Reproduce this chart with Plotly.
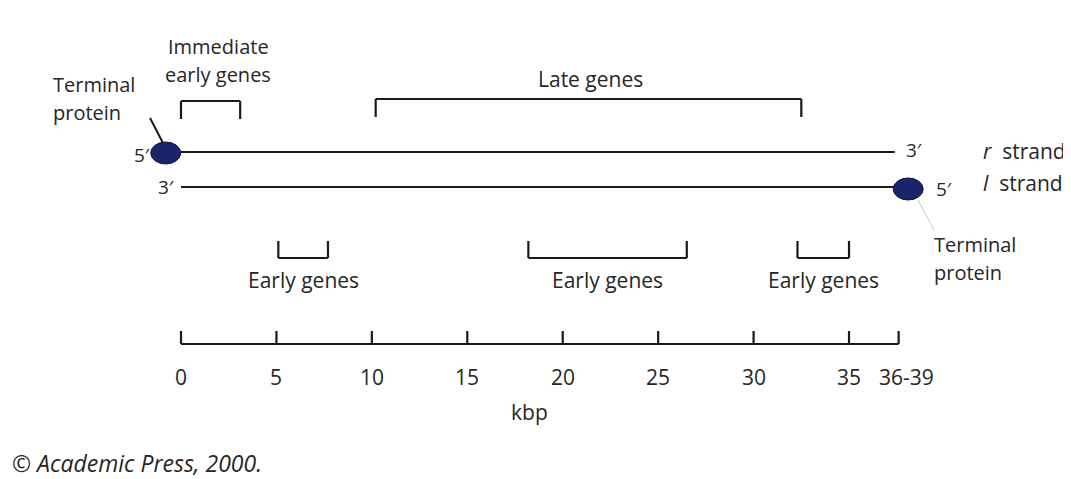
import plotly.graph_objects as go

# ---- data (kbp) ----
tick_values = [0, 5, 10, 15, 20, 25, 30, 35, 37.6]
tick_labels = ["0", "5", "10", "15", "20", "25", "30", "35", "36-39"]
genome_length = 37.6

upper_labels = ["Immediate<br>early genes", "Late genes"]
upper_starts = [0.0, 10.2]
upper_ends = [3.1, 32.5]

lower_labels = ["Early genes", "Early genes", "Early genes"]
lower_starts = [5.1, 18.2, 32.3]
lower_ends = [7.7, 26.5, 35.0]

# ---- layout helpers (pixel geometry) ----
W, H = 1071, 479
OFF = 8  # page body margin
X0PX, PXPERK = 181, 19.086
FONT = "Open Sans"
FS = 21
NAVY = "#1b2468"
TXT = "#262626"


def px2k(p):
    return (p - X0PX) / PXPERK


xr = [px2k(OFF), px2k(OFF + W)]

fig = go.Figure()
fig.add_trace(go.Scatter(x=[0], y=[0], mode="markers", marker=dict(opacity=0),
                         hoverinfo="skip", showlegend=False))

shapes = []
ann = []


def line(x0, y0, x1, y1, w=2.2, color="#1a1a1a", dash="solid"):
    shapes.append(dict(type="line", xref="x", yref="y", x0=x0, y0=y0, x1=x1, y1=y1,
                       line=dict(color=color, width=w, dash=dash)))


def text(x, y, s, xanchor="center", size=FS, italic=False):
    ann.append(dict(x=x, y=y, xref="x", yref="y", text=s, showarrow=False, xanchor=xanchor,
                    yanchor="middle", borderpad=0,
                    font=dict(family=FONT, size=size, color=TXT,
                              style="italic" if italic else "normal")))


def multitext(x, yc, s, xanchor="center", size=20, gap=28):
    parts = s.split("<br>")
    n = len(parts)
    for i, p in enumerate(parts):
        text(x, yc + (i - (n - 1) / 2) * gap, p, xanchor=xanchor, size=size)


# strands
line(0, 152, genome_length - 0.2, 152)
line(0, 187, genome_length + 0.3, 187)

# terminal proteins (ellipses)
for xc, yc in [(-0.8, 153), (genome_length + 0.5, 189)]:
    shapes.append(dict(type="circle", xref="x", yref="y", xsizemode="pixel", xanchor=xc,
                       x0=-15, x1=15, y0=yc - 11, y1=yc + 11,
                       fillcolor=NAVY, line=dict(color="#101840", width=1)))

# pointer lines
line(px2k(150), 118, px2k(163), 143, w=2)
line(px2k(918), 200, px2k(934), 230, w=1, color="#c8c8c8")

# upper brackets
for s, e, lab in zip(upper_starts, upper_ends, upper_labels):
    top = 101 if lab != "Late genes" else 99
    line(s, top, e, top)
    line(s, top, s, top + 18)
    line(e, top, e, top + 18)

multitext((upper_starts[0] + upper_ends[0]) / 2 + 0.4, 60, upper_labels[0])
text((upper_starts[1] + upper_ends[1]) / 2 + 0.1, 79, upper_labels[1])

# lower brackets
for s, e, lab in zip(lower_starts, lower_ends, lower_labels):
    bot = 258
    line(s, bot, e, bot)
    line(s, bot, s, bot - 17)
    line(e, bot, e, bot - 17)
    text((s + e) / 2, 280, lab)

# end labels
text(px2k(142), 155, "5′", size=19)
text(px2k(166), 187, "3′", size=19)
text(px2k(914), 150, "3′", size=19)
text(px2k(944), 189, "5′", size=19)
multitext(px2k(52), 98.5, "Terminal<br>protein", xanchor="left")
multitext(px2k(933), 258, "Terminal<br>protein", xanchor="left")
text(px2k(982), 151, "<i>r</i>&nbsp; strand", xanchor="left")
text(px2k(982), 183, "<i>l</i>&nbsp; strand", xanchor="left")

# scale bar
line(0, 344, genome_length, 344)
for v, lab in zip(tick_values, tick_labels):
    line(v, 331, v, 344)
    text(v + (0.4 if lab == "36-39" else 0), 377, lab)
text(px2k(529), 412, "kbp")

text(px2k(11), 463, "© Academic Press, 2000.", xanchor="left", size=23, italic=True)

fig.update_layout(
    width=W, height=H, margin=dict(l=0, r=0, t=0, b=0),
    paper_bgcolor="white", plot_bgcolor="white",
    xaxis=dict(range=xr, visible=False, fixedrange=True),
    yaxis=dict(range=[H + OFF, OFF], visible=False, fixedrange=True),
    shapes=shapes, annotations=ann, showlegend=False,
)
fig.write_html("out.html")
